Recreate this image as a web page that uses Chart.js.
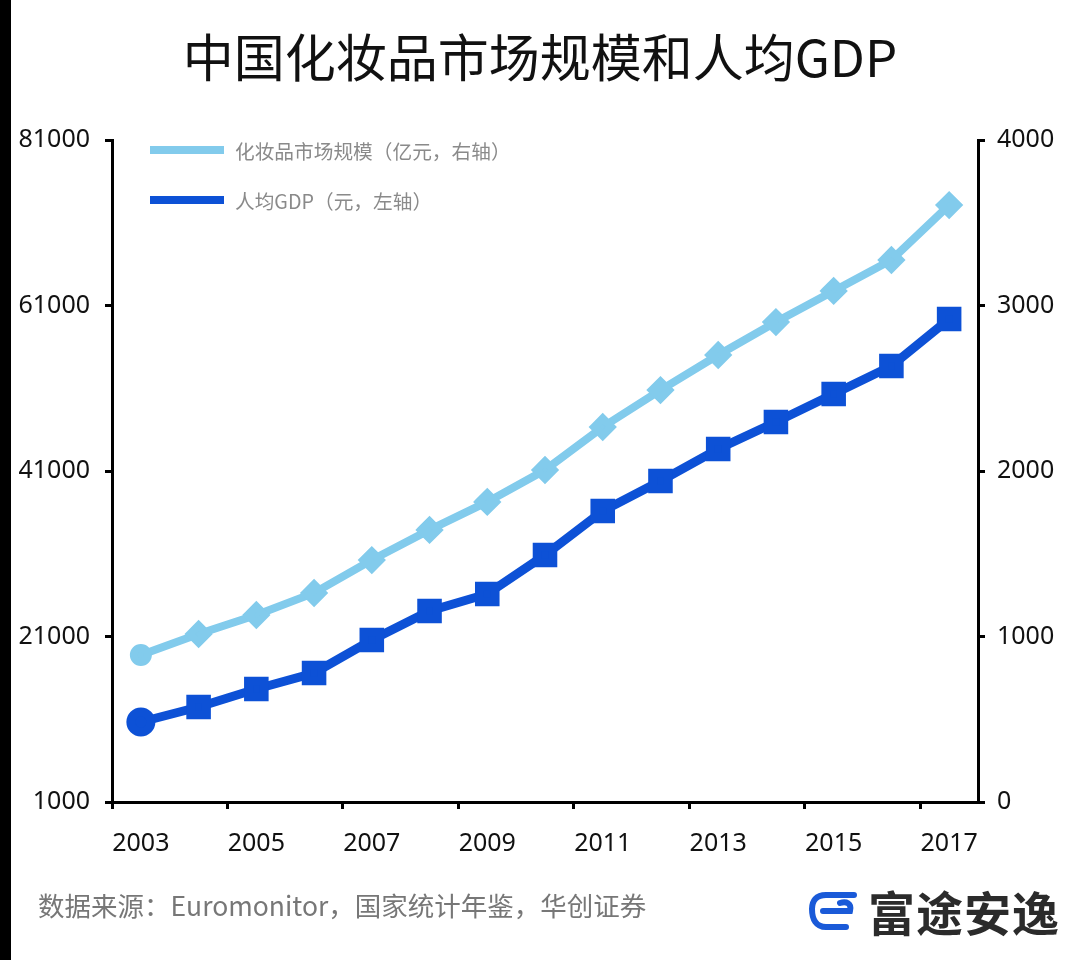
<!DOCTYPE html>
<html>
<head>
  <meta charset="UTF-8">
  <title>中国化妆品市场规模和人均GDP</title>
  <script src="https://cdn.jsdelivr.net/npm/chart.js@4.4.1/dist/chart.umd.min.js"></script>
  <style>
    body {
      margin: 0;
      width: 1080px;
      height: 960px;
      position: relative;
      background: #fff;
      font-family: "Noto Sans CJK SC", "Noto Sans", sans-serif;
      overflow: hidden;
    }
    #wrap { position: absolute; left: 0; top: 0; width: 1080px; height: 960px; }
    #strip { position: absolute; left: 0; top: 0; width: 11px; height: 960px; background: #000; }
    h1 {
      position: absolute; left: 0; top: 20px; width: 1080px; margin: 0;
      text-align: center; font-weight: normal; font-size: 51px; color: #111;
      line-height: 70px;
    }
    #legend { position: absolute; left: 150px; top: 132px; }
    .item { height: 50px; display: flex; align-items: center; position: relative; top: -7px; }
    .swatch { width: 74px; height: 8px; margin-right: 11px; }
    .item span { font-size: 19.7px; color: #8a8a8a; }
    #source {
      position: absolute; left: 38px; top: 885px; font-size: 26.5px; color: #777;
    }
    #logo { position: absolute; left: 806px; top: 876px; display: flex; align-items: center; }
    #logo b { font-size: 47px; color: #2b2b2b; margin-left: 10px; font-weight: bold; letter-spacing: 1px; }
  </style>
</head>
<body>
  <div id="wrap"><canvas id="myChart" width="1080" height="960"></canvas></div>
  <div id="strip"></div>
  <h1>中国化妆品市场规模和人均GDP</h1>
  <div id="legend"></div>
  <div id="source">数据来源：Euromonitor，国家统计年鉴，华创证券</div>
  <div id="logo">
    <svg width="52" height="44" viewBox="0 0 52 44">
      <path d="M48 6 H20 C10 6 6 12 6 20 C6 30 10 38 20 38 H40" fill="none" stroke="#1a5ad8" stroke-width="6" stroke-linecap="round"/>
      <path d="M17 22 H44 C46 14 40 12 34 14" fill="none" stroke="#1a5ad8" stroke-width="6" stroke-linecap="round"/>
    </svg>
    <b>富途安逸</b>
  </div>

  <script>
    const years = ['2003', '2004', '2005', '2006', '2007', '2008', '2009', '2010',
                   '2011', '2012', '2013', '2014', '2015', '2016', '2017'];
    // 化妆品市场规模（亿元，右轴）
    const cosmetics = [888, 1015, 1130, 1263, 1462, 1644, 1813, 2006,
                       2266, 2489, 2701, 2900, 3088, 3275, 3607];
    // 人均GDP（元，左轴）
    const gdpPerCapita = [10668, 12480, 14656, 16589, 20577, 24082, 26136, 30849,
                          36166, 39792, 43659, 46921, 50305, 53689, 59369];
    const leftTicks = [1000, 21000, 41000, 61000, 81000];
    const rightTicks = [0, 1000, 2000, 3000, 4000];

    const lightBlue = '#82cbec';
    const darkBlue = '#0d51d6';
    const tickFont = { family: 'Noto Sans', size: 25 };

    const datasets = [{
      label: '化妆品市场规模（亿元，右轴）',
      data: cosmetics,
      yAxisID: 'yR',
      borderColor: lightBlue,
      backgroundColor: lightBlue,
      borderWidth: 8,
      pointStyle: ctx => ctx.dataIndex === 0 ? 'circle' : 'rectRot',
      pointRadius: ctx => ctx.dataIndex === 0 ? 7 : 8.5,
      tension: 0
    }, {
      label: '人均GDP（元，左轴）',
      data: gdpPerCapita,
      yAxisID: 'yL',
      borderColor: darkBlue,
      backgroundColor: darkBlue,
      borderWidth: 9,
      pointStyle: ctx => ctx.dataIndex === 0 ? 'circle' : 'rect',
      pointRadius: ctx => ctx.dataIndex === 0 ? 10 : 11,
      tension: 0
    }];

    // HTML legend
    const legend = document.getElementById('legend');
    datasets.forEach(ds => {
      const row = document.createElement('div');
      row.className = 'item';
      row.innerHTML = '<div class="swatch" style="background:' + ds.borderColor + '"></div><span>' + ds.label + '</span>';
      legend.appendChild(row);
    });

    new Chart(document.getElementById('myChart'), {
      type: 'line',
      data: { labels: years, datasets: datasets },
      options: {
        responsive: false,
        animation: false,
        layout: { padding: { top: 140, left: 0, right: 0, bottom: 0 } },
        plugins: { legend: { display: false }, tooltip: { enabled: false } },
        scales: {
          x: {
            offset: true,
            border: { color: '#000', width: 3 },
            grid: {
              offset: true,
              drawOnChartArea: false,
              tickLength: 7,
              lineWidth: 3,
              tickColor: ctx => ctx.index % 2 === 0 ? '#000' : 'rgba(0,0,0,0)'
            },
            ticks: {
              autoSkip: false,
              maxRotation: 0,
              color: '#111',
              font: tickFont,
              padding: 20,
              callback: function (v, i) { return i % 2 === 0 ? this.getLabelForValue(v) : ''; }
            },
            afterFit: s => { s.height = 158; }
          },
          yL: {
            position: 'left',
            min: leftTicks[0],
            max: leftTicks[leftTicks.length - 1],
            afterBuildTicks: s => { s.ticks = leftTicks.map(v => ({ value: v })); },
            border: { color: '#000', width: 3 },
            grid: { drawOnChartArea: false, tickLength: 7, lineWidth: 3, tickColor: '#000' },
            ticks: { color: '#111', font: tickFont, padding: 15, callback: v => String(v) },
            afterFit: s => { s.width = 112; }
          },
          yR: {
            position: 'right',
            min: rightTicks[0],
            max: rightTicks[rightTicks.length - 1],
            afterBuildTicks: s => { s.ticks = rightTicks.map(v => ({ value: v })); },
            border: { color: '#000', width: 3 },
            grid: { drawOnChartArea: false, tickLength: 7, lineWidth: 3, tickColor: '#000' },
            ticks: { color: '#111', font: tickFont, padding: 12, callback: v => String(v) },
            afterFit: s => { s.width = 102; }
          }
        }
      }
    });
  </script>
</body>
</html>
